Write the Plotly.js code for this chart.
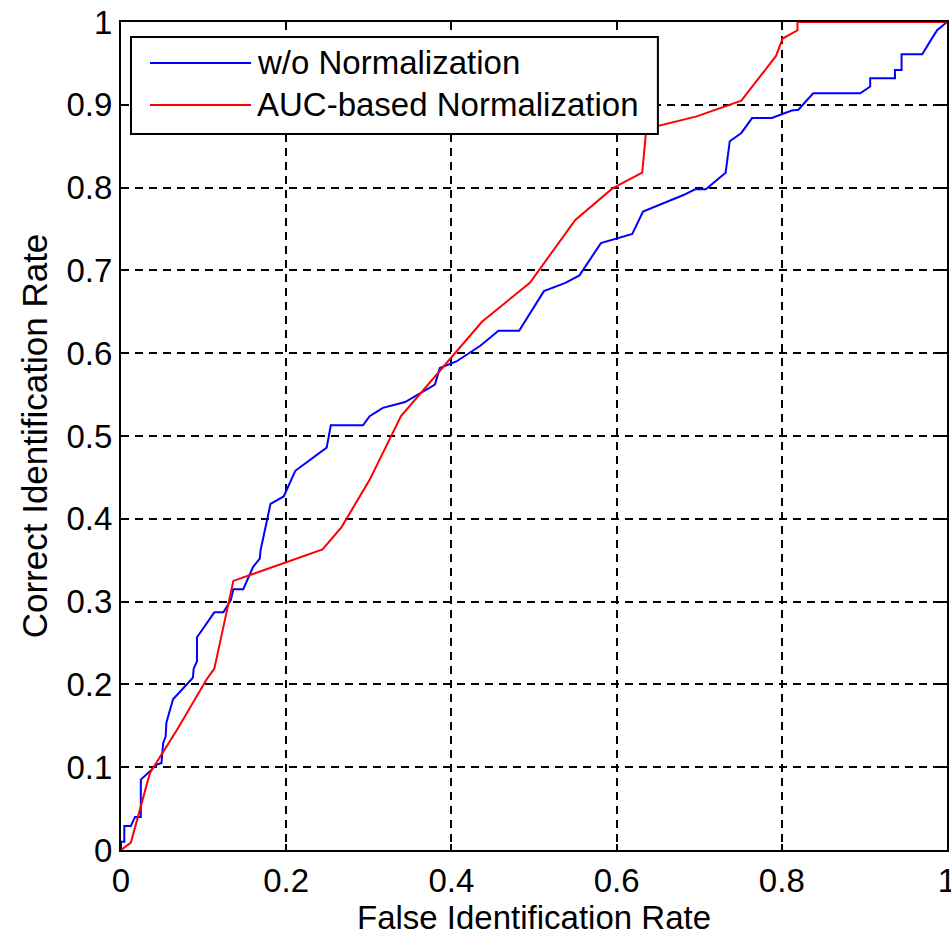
<!DOCTYPE html>
<html>
<head>
<meta charset="utf-8">
<script src="https://cdn.plot.ly/plotly-3.0.1.min.js"></script>
<style>html,body{margin:0;padding:0;background:#fff;}#chart{width:951px;height:939px;}</style>
</head>
<body>
<div id="chart"></div>
<script>
// Data
const blueName = "w/o Normalization";
const blueX = [0,0,0.004,0.004,0.012,0.017,0.024,0.024,0.035,0.043,0.049,0.051,0.054,0.055,0.063,0.087,0.088,0.092,0.092,0.113,0.124,0.133,0.136,0.148,0.160,0.168,0.169,0.176,0.181,0.197,0.211,0.249,0.254,0.293,0.301,0.317,0.344,0.380,0.386,0.406,0.435,0.457,0.482,0.512,0.538,0.555,0.581,0.619,0.632,0.681,0.695,0.708,0.732,0.737,0.751,0.764,0.788,0.812,0.820,0.838,0.895,0.907,0.907,0.937,0.937,0.945,0.945,0.970,0.975,0.981,0.988,1.0];
const blueY = [0,0.01,0.01,0.029,0.029,0.04,0.04,0.085,0.095,0.103,0.105,0.129,0.137,0.154,0.182,0.208,0.219,0.228,0.257,0.287,0.287,0.302,0.315,0.315,0.342,0.352,0.362,0.394,0.418,0.427,0.458,0.486,0.513,0.513,0.524,0.534,0.541,0.562,0.582,0.590,0.609,0.627,0.627,0.675,0.685,0.694,0.733,0.744,0.771,0.791,0.798,0.798,0.818,0.856,0.866,0.884,0.884,0.893,0.894,0.914,0.914,0.922,0.932,0.932,0.942,0.942,0.961,0.961,0.970,0.979,0.990,1.0];
const redName = "AUC-based Normalization";
const redX = [0,0.012,0.035,0.069,0.103,0.113,0.136,0.244,0.267,0.301,0.339,0.437,0.495,0.550,0.595,0.631,0.636,0.697,0.751,0.793,0.801,0.819,0.819,1.0];
const redY = [0,0.009,0.093,0.147,0.205,0.219,0.325,0.363,0.390,0.447,0.524,0.638,0.685,0.761,0.799,0.818,0.871,0.886,0.905,0.959,0.980,0.990,1.0,1.0];
const xTicks = [0,0.2,0.4,0.6,0.8,1];
const yTicks = [0,0.1,0.2,0.3,0.4,0.5,0.6,0.7,0.8,0.9,1];
const xTitle = "False Identification Rate";
const yTitle = "Correct Identification Rate";

const FONT = "Liberation Sans, Arial, sans-serif";

const traces = [
  {x: blueX, y: blueY, name: blueName, type: "scatter", mode: "lines", line: {color: "#0000ff", width: 2}},
  {x: redX, y: redY, name: redName, type: "scatter", mode: "lines", line: {color: "#ff0000", width: 2}}
];

const axisCommon = {
  range: [0, 1],
  showline: true, linecolor: "#000", linewidth: 2, mirror: "ticks",
  ticks: "inside", ticklen: 6, tickwidth: 2, tickcolor: "#000",
  showgrid: true, gridcolor: "#000", gridwidth: 2, griddash: "8px,6px",
  zeroline: false,
  ticklabeloverflow: "allow",
  tickfont: {family: FONT, size: 33, color: "#000"}
};

// legend box (drawn manually to match the long line samples)
const lg = {x0: 0.0121, x1: 0.650, y0: 0.8647, y1: 0.9819, lx0: 0.0351, lx1: 0.1574, tx: 0.1622, yb: 0.9505, yr: 0.8998};

const layout = {
  width: 951, height: 939,
  margin: {l: 121, r: 4, t: 22, b: 89},
  paper_bgcolor: "#fff", plot_bgcolor: "#fff",
  showlegend: false,
  font: {family: FONT, color: "#000"},
  xaxis: Object.assign({}, axisCommon, {tickvals: xTicks, ticktext: xTicks.map(String),
    title: {text: xTitle, font: {family: FONT, size: 33, color: "#000"}, standoff: 8}}),
  yaxis: Object.assign({}, axisCommon, {tickvals: yTicks, ticktext: yTicks.map(String),
    title: {text: yTitle, font: {family: FONT, size: 35, color: "#000"}, standoff: 8}}),
  shapes: [
    {type: "rect", xref: "paper", yref: "paper", x0: lg.x0, x1: lg.x1, y0: lg.y0, y1: lg.y1,
     line: {color: "#000", width: 2}, fillcolor: "#fff", layer: "above"},
    {type: "line", xref: "paper", yref: "paper", x0: lg.lx0, x1: lg.lx1, y0: lg.yb, y1: lg.yb,
     line: {color: "#0000ff", width: 2}, layer: "above"},
    {type: "line", xref: "paper", yref: "paper", x0: lg.lx0, x1: lg.lx1, y0: lg.yr, y1: lg.yr,
     line: {color: "#ff0000", width: 2}, layer: "above"}
  ],
  annotations: [
    {xref: "paper", yref: "paper", x: lg.tx, y: lg.yb, xanchor: "left", yanchor: "middle", showarrow: false,
     text: blueName, font: {family: FONT, size: 33, color: "#000"}},
    {xref: "paper", yref: "paper", x: lg.tx, y: lg.yr, xanchor: "left", yanchor: "middle", showarrow: false,
     text: redName, font: {family: FONT, size: 33, color: "#000"}}
  ]
};

Plotly.newPlot("chart", traces, layout, {displayModeBar: false, staticPlot: true});
</script>
</body>
</html>
